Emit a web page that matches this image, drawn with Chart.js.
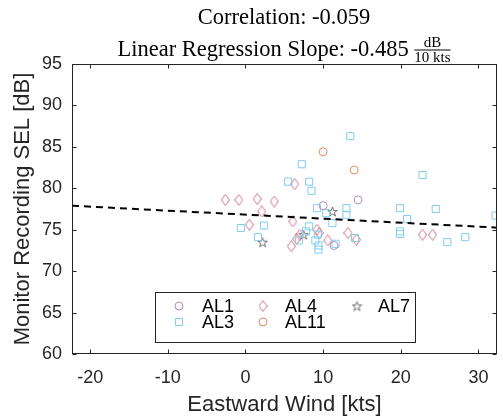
<!DOCTYPE html>
<html>
<head>
<meta charset="utf-8">
<script src="https://cdn.jsdelivr.net/npm/chart.js@4.4.1/dist/chart.umd.min.js"></script>
<style>
html, body { margin: 0; padding: 0; background: #fff; }
#c { display: block; }
</style>
</head>
<body>
<canvas id="c" width="503" height="419"></canvas>
<script>
// wind (kts) / SEL (dB) per monitor
const al1Wind = [10.0, 14.5, 11.4];
const al1Sel = [77.9, 78.6, 73.1];
const al3Wind = [13.5, 7.25, 5.5, 8.2, 8.5, 9.2, 13.0, 13.0, 10.4, 11.2, -0.6, 2.4, 1.6, 8.2, 7.8, 9.3, 6.9, 9.0, 9.4, 9.4, 11.6, 14.1, 19.9, 20.8, 19.9, 19.9, 22.8, 24.5, 26.0, 28.3, 32.2];
const al3Sel = [86.3, 82.9, 80.8, 80.8, 79.7, 77.6, 77.6, 76.8, 77.0, 75.8, 75.2, 75.5, 74.1, 75.4, 74.8, 74.4, 73.7, 73.7, 73.1, 72.6, 73.3, 74.0, 77.6, 76.3, 74.8, 74.5, 81.6, 77.5, 73.5, 74.1, 76.7];
const al4Wind = [6.35, -2.6, -0.85, 1.5, 3.7, 2.1, 0.5, 6.1, 7.0, 6.6, 9.2, 9.5, 5.9, 10.6, 13.2, 14.3, 22.8, 24.1];
const al4Sel = [80.5, 78.6, 78.6, 78.7, 78.4, 77.2, 75.6, 76.0, 74.4, 73.9, 75.0, 74.6, 73.0, 73.7, 74.6, 73.8, 74.4, 74.4];
const al11Wind = [10.0, 14.0];
const al11Sel = [84.4, 82.2];
const al7Wind = [11.2, 7.5, 2.2];
const al7Sel = [77.2, 74.4, 73.5];
const fitWind = [-22.34, 32.39];
const fitSel = [77.90, 75.25];
const xTicks = [-20, -10, 0, 10, 20, 30];
const yTicks = [60, 65, 70, 75, 80, 85, 90, 95];
const titleLine1 = 'Correlation: -0.059';
const titleLine2 = 'Linear Regression Slope: -0.485';

const axisColor = '#262626';
const al1Color = '#b58bc2';
const al3Color = '#7fcdf0';
const al4Color = '#cf7489';
const al11Color = '#e58a5c';
const al7Color = '#6e6e6e';

const pts = (xs, ys) => xs.map((v, i) => ({x: v, y: ys[i]}));

function markerCanvas(w, h, draw) {
    const c = document.createElement('canvas');
    c.width = w; c.height = h;
    draw(c.getContext('2d'), w, h);
    return c;
}
const diamondImg = markerCanvas(9, 12, (g, w, h) => {
    g.strokeStyle = al4Color; g.lineWidth = 1;
    g.beginPath();
    g.moveTo(w / 2, 0.5); g.lineTo(w - 0.5, h / 2); g.lineTo(w / 2, h - 0.5); g.lineTo(0.5, h / 2);
    g.closePath(); g.stroke();
});
const starImg = markerCanvas(11, 11, (g, w, h) => {
    g.strokeStyle = al7Color; g.lineWidth = 1;
    g.beginPath();
    for (let k = 0; k < 10; k++) {
        const r = k % 2 ? 2 : 5;
        const a = -Math.PI / 2 + k * Math.PI / 5;
        const px = w / 2 + r * Math.cos(a), py = h / 2 + 0.5 + r * Math.sin(a);
        k ? g.lineTo(px, py) : g.moveTo(px, py);
    }
    g.closePath(); g.stroke();
});

function scatterSet(label, xs, ys, color, style, radius) {
    return {
        label: label,
        type: 'scatter',
        data: pts(xs, ys),
        pointStyle: style,
        pointRadius: radius,
        borderColor: color,
        backgroundColor: 'rgba(0,0,0,0)',
        borderWidth: 1,
        showLine: false
    };
}

const sets = {
    AL1: scatterSet('AL1', al1Wind, al1Sel, al1Color, 'circle', 4),
    AL3: scatterSet('AL3', al3Wind, al3Sel, al3Color, 'rect', 5),
    AL4: scatterSet('AL4', al4Wind, al4Sel, al4Color, diamondImg, 5),
    AL11: scatterSet('AL11', al11Wind, al11Sel, al11Color, 'circle', 4),
    AL7: scatterSet('AL7', al7Wind, al7Sel, al7Color, starImg, 5)
};

const fitSet = {
    label: 'fit',
    type: 'line',
    data: pts(fitWind, fitSel),
    borderColor: '#000',
    borderWidth: 2,
    borderDash: [7, 5],
    pointRadius: 0,
    fill: false
};

const framePlugin = {
    id: 'frame',
    afterDatasetsDraw(chart) {
        const {ctx, chartArea: a, scales} = chart;
        const L = Math.round(a.left) + 0.5, R = Math.round(a.right) - 0.5;
        const T = Math.round(a.top) + 0.5, B = Math.round(a.bottom) - 0.5;
        ctx.save();
        ctx.strokeStyle = axisColor;
        ctx.lineWidth = 1;
        ctx.strokeRect(L, T, R - L, B - T);
        ctx.beginPath();
        xTicks.forEach(v => {
            const px = Math.round(scales.x.getPixelForValue(v)) + 0.5;
            ctx.moveTo(px, B); ctx.lineTo(px, B - 4);
            ctx.moveTo(px, T); ctx.lineTo(px, T + 4);
        });
        yTicks.forEach(v => {
            const py = Math.round(scales.y.getPixelForValue(v)) + 0.5;
            ctx.moveTo(L, py); ctx.lineTo(L + 4, py);
            ctx.moveTo(R, py); ctx.lineTo(R - 4, py);
        });
        ctx.stroke();
        ctx.restore();
    }
};

const legendPlugin = {
    id: 'boxLegend',
    afterDraw(chart) {
        const ctx = chart.ctx;
        const items = [
            ['AL1', 179, 306, 202], ['AL3', 179, 322, 202],
            ['AL4', 263, 306, 285], ['AL11', 263, 322, 285],
            ['AL7', 357, 306, 378]
        ];
        ctx.save();
        ctx.fillStyle = '#fff';
        ctx.strokeStyle = axisColor;
        ctx.lineWidth = 1;
        ctx.fillRect(155.5, 292.5, 260, 50);
        ctx.strokeRect(155.5, 292.5, 260, 50);
        items.forEach(([name, mx, my, tx]) => {
            const ds = sets[name];
            ctx.strokeStyle = ds.borderColor;
            ctx.fillStyle = 'rgba(0,0,0,0)';
            ctx.lineWidth = 1;
            Chart.helpers.drawPoint(ctx, {pointStyle: ds.pointStyle, radius: ds.pointRadius, rotation: 0, borderWidth: 1}, mx, my);
            ctx.fillStyle = '#000';
            ctx.font = '18px "Liberation Sans", Arial, sans-serif';
            ctx.textBaseline = 'middle';
            ctx.textAlign = 'left';
            ctx.fillText(name, tx, my + 1);
        });
        ctx.restore();
    }
};

const titlePlugin = {
    id: 'texTitle',
    afterDraw(chart) {
        const ctx = chart.ctx;
        const cx = 284;
        ctx.save();
        ctx.fillStyle = '#000';
        ctx.textBaseline = 'alphabetic';
        ctx.font = '22.5px "Liberation Serif", "Times New Roman", serif';
        ctx.textAlign = 'center';
        ctx.fillText(titleLine1, cx, 24);
        // second line: text followed by a small stacked fraction dB / 10 kts
        const w2 = ctx.measureText(titleLine2 + ' ').width;
        ctx.font = '15px "Liberation Serif", "Times New Roman", serif';
        const fw = ctx.measureText('10 kts').width;
        const start = cx - (w2 + fw) / 2;
        ctx.font = '22.5px "Liberation Serif", "Times New Roman", serif';
        ctx.textAlign = 'left';
        ctx.fillText(titleLine2, start, 56);
        const fx = start + w2;
        ctx.font = '15px "Liberation Serif", "Times New Roman", serif';
        ctx.textAlign = 'center';
        ctx.fillText('dB', fx + fw / 2, 47);
        ctx.fillText('10 kts', fx + fw / 2, 62);
        ctx.fillRect(fx, 49.5, fw, 1);
        ctx.restore();
    }
};

new Chart(document.getElementById('c').getContext('2d'), {
    data: {
        datasets: [fitSet, sets.AL1, sets.AL3, sets.AL4, sets.AL11, sets.AL7]
    },
    options: {
        responsive: false,
        animation: false,
        events: [],
        layout: { padding: { top: 64, right: 3, left: 0, bottom: 0 } },
        plugins: {
            legend: { display: false },
            tooltip: { enabled: false }
        },
        scales: {
            x: {
                type: 'linear',
                min: fitWind[0],
                max: fitWind[1],
                afterBuildTicks: s => { s.ticks = xTicks.map(v => ({value: v})); },
                afterFit: s => { s.height = 65; },
                grid: { display: false, drawTicks: false, tickLength: 0 },
                border: { display: false },
                ticks: {
                    color: axisColor,
                    font: { family: '"Liberation Sans", Arial, sans-serif', size: 18 },
                    padding: 13,
                    maxRotation: 0
                },
                title: {
                    display: true,
                    text: 'Eastward Wind [kts]',
                    color: axisColor,
                    font: { family: '"Liberation Sans", Arial, sans-serif', size: 22 },
                    padding: { top: 0, bottom: 1 }
                }
            },
            y: {
                type: 'linear',
                min: yTicks[0],
                max: yTicks[yTicks.length - 1],
                afterBuildTicks: s => { s.ticks = yTicks.map(v => ({value: v})); },
                afterFit: s => { s.width = 72; },
                grid: { display: false, drawTicks: false, tickLength: 0 },
                border: { display: false },
                ticks: {
                    color: axisColor,
                    font: { family: '"Liberation Sans", Arial, sans-serif', size: 18 },
                    padding: 10
                },
                title: {
                    display: true,
                    text: 'Monitor Recording SEL [dB]',
                    color: axisColor,
                    font: { family: '"Liberation Sans", Arial, sans-serif', size: 22 },
                    padding: { top: 10, bottom: 0 }
                }
            }
        }
    },
    plugins: [framePlugin, legendPlugin, titlePlugin]
});
</script>
</body>
</html>
